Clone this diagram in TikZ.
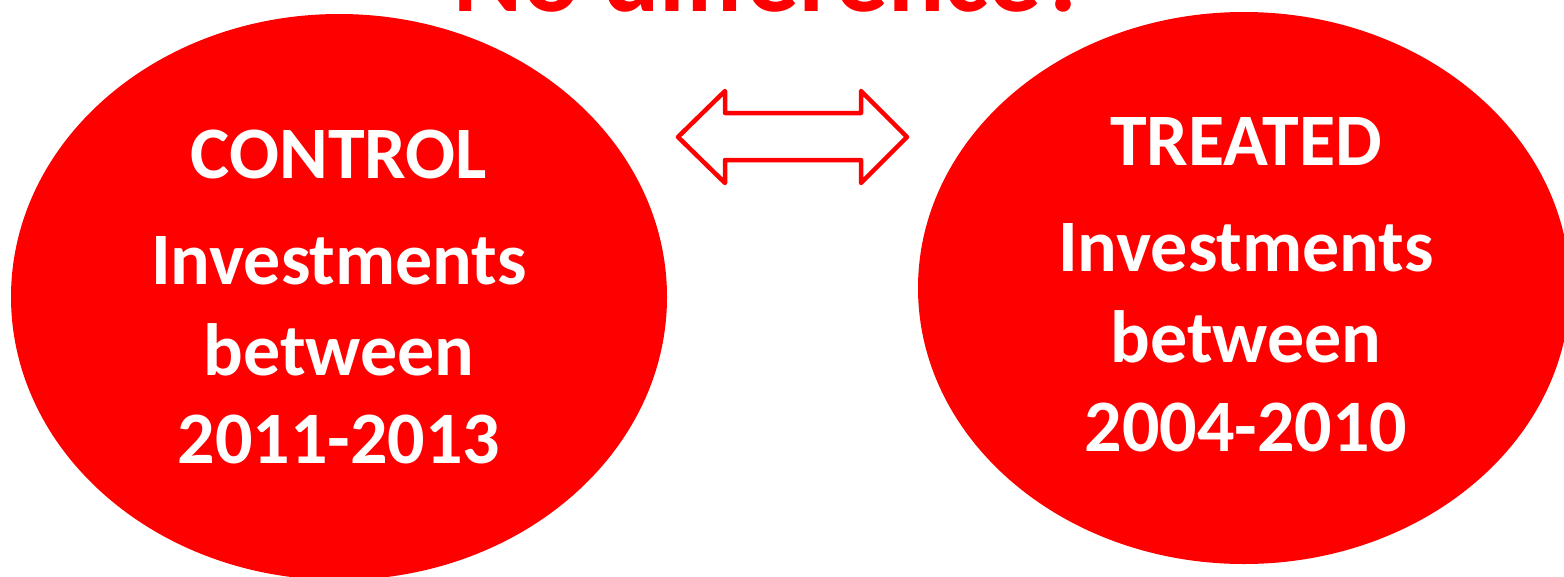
\documentclass[tikz,border=0pt]{standalone}
\usepackage{fontspec}
\setmainfont{Carlito}
\usetikzlibrary{shapes.geometric}
\tikzset{
  blob/.style={ellipse, fill=red, draw=none, inner sep=0pt},
  txt/.style={text=white, font=\bfseries\fontsize{74}{80}\selectfont, anchor=base, inner sep=0pt},
  ttl/.style={text=red, font=\bfseries\fontsize{105}{110}\selectfont, anchor=base, inner sep=0pt},
  barrow/.style={draw=red, fill=white, line width=4.5pt, line join=round}
}
\begin{document}
\begin{tikzpicture}[x=1pt,y=-1pt]
\useasboundingbox (0,0) rectangle (1564,576);
\node[ttl] (title) at (772,11) {No difference?};
\node[blob, minimum width=656pt, minimum height=566pt] (control) at (339,297) {};
\node[blob, minimum width=652pt, minimum height=552pt] (treated) at (1244,288) {};
\node[txt] (c1) at (339,178) {CONTROL};
\node[txt] (c2) at (339,284) {Investments};
\node[txt] (c3) at (339,375) {between};
\node[txt] (c4) at (339,463) {2011-2013};
\node[txt] (t1) at (1246,165) {TREATED};
\node[txt] (t2) at (1246,271) {Investments};
\node[txt] (t3) at (1246,362) {between};
\node[txt] (t4) at (1246,451) {2004-2010};
\draw[barrow] (678,137) -- (725,91) -- (725,113) -- (861,113) -- (861,91) -- (907,137)
  -- (861,183) -- (861,160) -- (725,160) -- (725,183) -- cycle;
\end{tikzpicture}
\end{document}
